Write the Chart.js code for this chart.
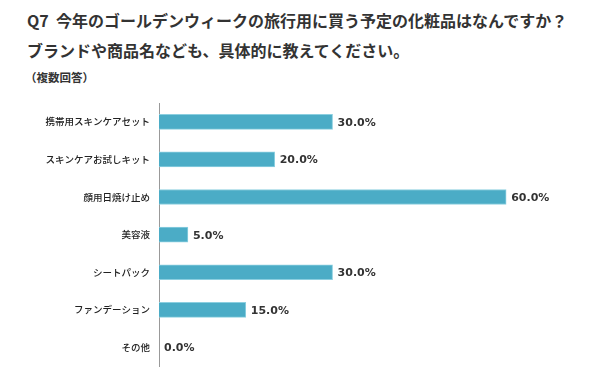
<!DOCTYPE html>
<html><head><meta charset="utf-8">
<script src="https://cdn.jsdelivr.net/npm/chart.js@4/dist/chart.umd.min.js"></script>
<style>
html,body{margin:0;padding:0;background:#fff;}
#wrap{position:relative;width:600px;height:381px;}
.t{position:absolute;left:27px;font-family:"Noto Sans CJK JP","Noto Sans",sans-serif;font-weight:bold;color:#333;white-space:nowrap;}
#t1{top:8px;font-size:16px;}
#t2{top:38px;font-size:16px;}
#t3{top:69px;font-size:11.5px;left:25px;}
canvas{position:absolute;left:0;top:0;}
</style></head>
<body><div id="wrap">
<div class="t" id="t1">Q7&nbsp;&nbsp;今年のゴールデンウィークの旅行用に買う予定の化粧品はなんですか？</div>
<div class="t" id="t2">ブランドや商品名なども、具体的に教えてください。</div>
<div class="t" id="t3">（複数回答）</div>
<canvas id="c" width="600" height="381"></canvas>
</div>
<script>
const categories = ["携帯用スキンケアセット","スキンケアお試しキット","顔用日焼け止め","美容液","シートパック","ファンデーション","その他"];
const values = [30.0, 20.0, 60.0, 5.0, 30.0, 15.0, 0.0];

const labelPlugin = {
  id: 'valLabels',
  afterDatasetsDraw(chart) {
    const ctx = chart.ctx;
    const meta = chart.getDatasetMeta(0);
    ctx.save();
    ctx.font = 'bold 11px "DejaVu Sans", sans-serif';
    ctx.fillStyle = '#333';
    ctx.textAlign = 'left';
    ctx.textBaseline = 'middle';
    meta.data.forEach((bar, i) => {
      ctx.fillText(values[i].toFixed(1) + '%', bar.x + 5, bar.y + 1);
    });
    ctx.restore();
  }
};

new Chart(document.getElementById('c'), {
  type: 'bar',
  data: {
    labels: categories,
    datasets: [{
      data: values,
      backgroundColor: '#4BACC6',
      borderColor: '#8ccfe0',
      borderWidth: 1,
      barThickness: 15
    }]
  },
  options: {
    indexAxis: 'y',
    responsive: false,
    animation: false,
    layout: { padding: { top: 103, bottom: 14, right: 36, left: 0 } },
    plugins: { legend: { display: false }, tooltip: { enabled: false } },
    scales: {
      x: { display: false, min: 0, max: 70, grid: { display: false } },
      y: {
        grid: { display: false, drawTicks: false },
        border: { display: true, color: '#999', width: 1 },
        ticks: {
          color: '#222',
          padding: 9,
          font: { family: '"Noto Sans CJK JP", sans-serif', size: 9.5, weight: '500' }
        },
        afterFit(scale) { scale.width = 159; }
      }
    }
  },
  plugins: [labelPlugin]
});
</script>
</body></html>
